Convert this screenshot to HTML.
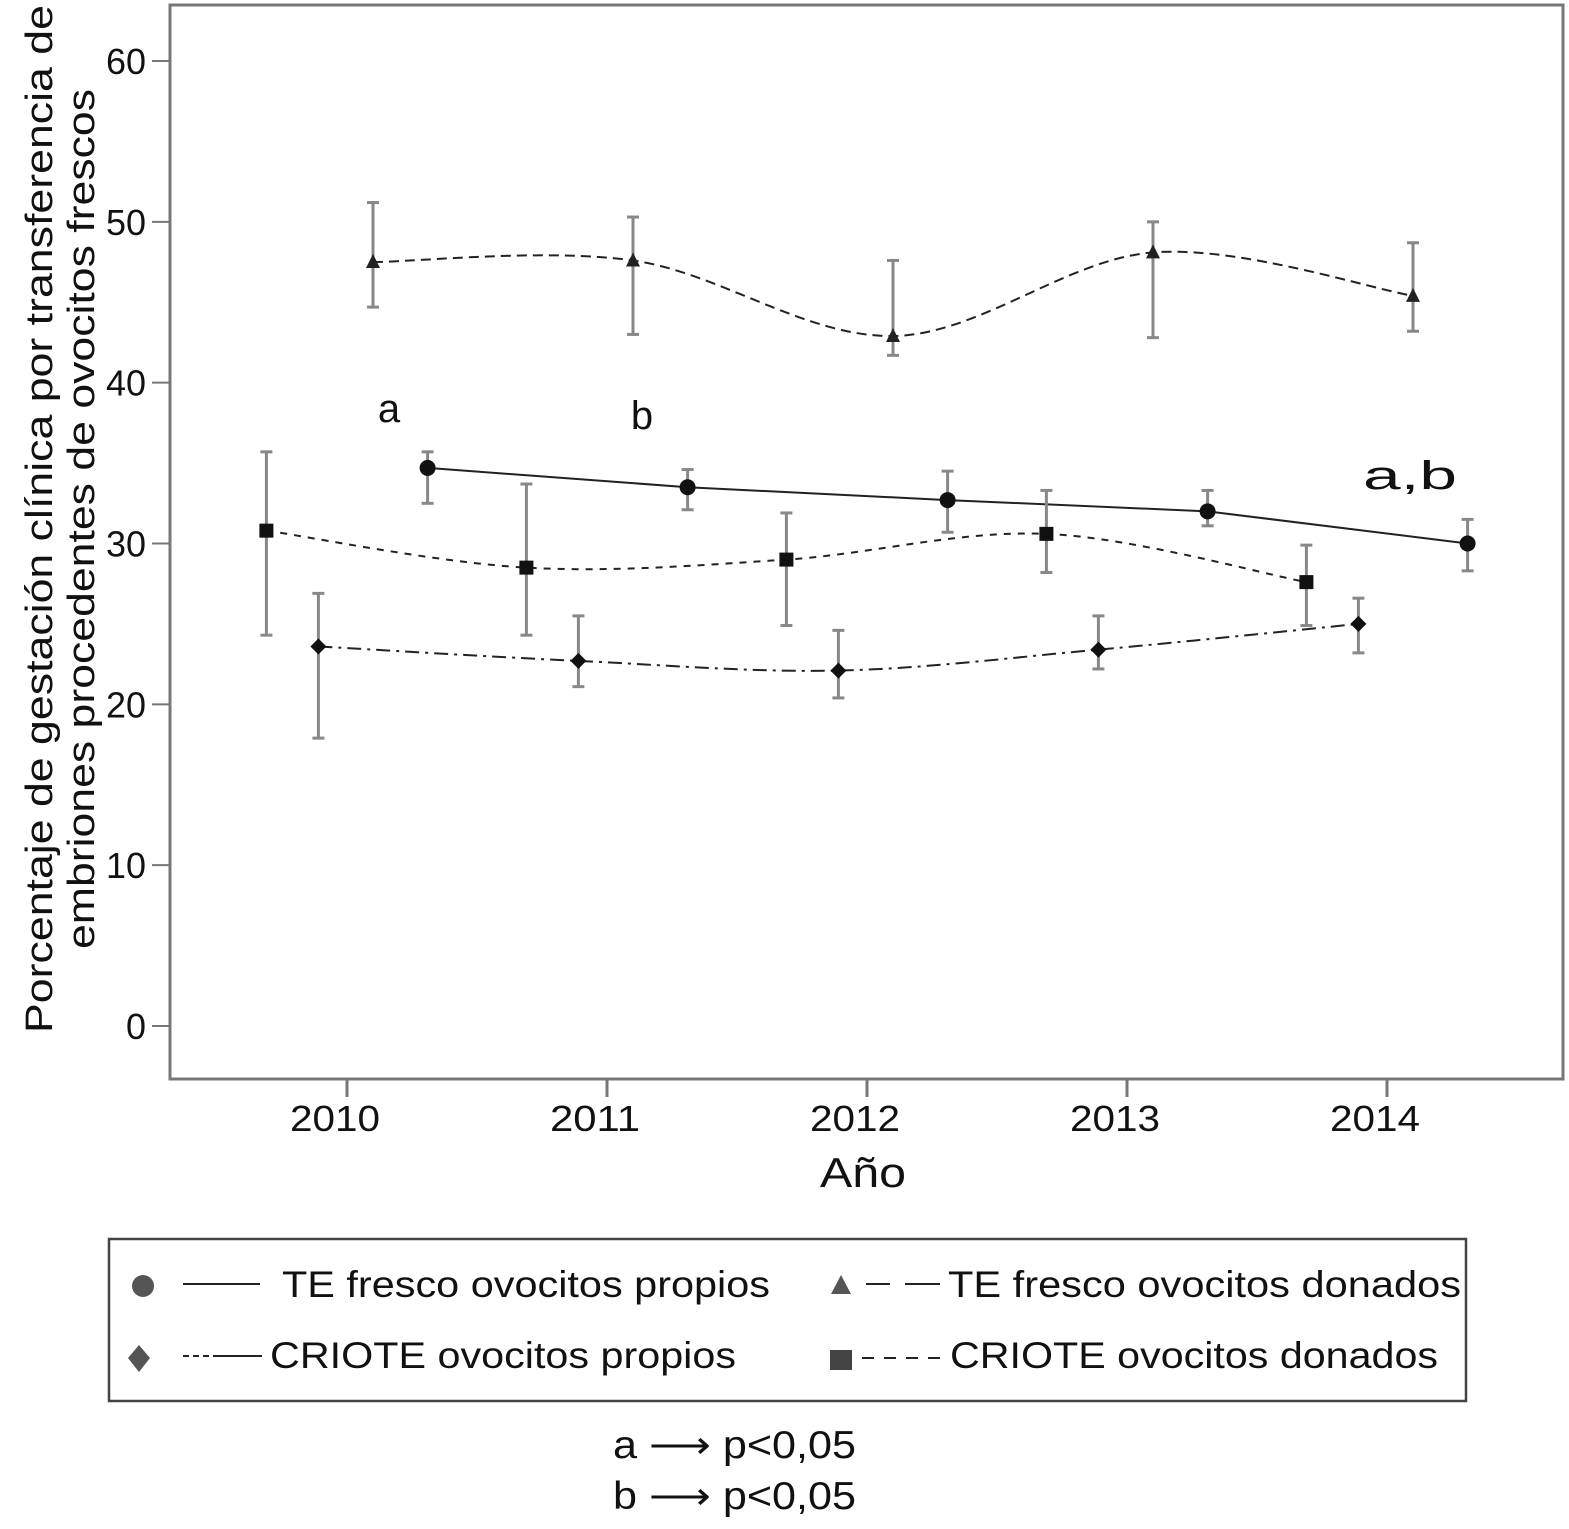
<!DOCTYPE html>
<html><head><meta charset="utf-8">
<style>
html,body{margin:0;padding:0;background:#fff;}
body{width:1569px;height:1524px;overflow:hidden;font-family:"Liberation Sans",sans-serif;}
svg text{font-family:"Liberation Sans",sans-serif;fill:#111;}
</style></head>
<body>
<svg id="chart" width="1569" height="1524" xmlns="http://www.w3.org/2000/svg">
  <rect x="170" y="5" width="1393" height="1074" fill="none" stroke="#777" stroke-width="3"/>
  <g id="axes"></g>
  <g id="series"></g>
  <text x="820" y="1187" font-size="42" textLength="86" lengthAdjust="spacingAndGlyphs">Año</text>
  <g transform="translate(52,519) rotate(-90)">
    <text x="-514" y="0" font-size="38" textLength="1028" lengthAdjust="spacingAndGlyphs">Porcentaje de gestación clínica por transferencia de</text>
    <text x="-430" y="42" font-size="38" textLength="860" lengthAdjust="spacingAndGlyphs">embriones procedentes de ovocitos frescos</text>
  </g>
  <text x="389" y="422" font-size="40" text-anchor="middle">a</text>
  <text x="642" y="429" font-size="40" text-anchor="middle">b</text>
  <text x="1363" y="489" font-size="40" textLength="94" lengthAdjust="spacingAndGlyphs">a,b</text>

  <g>
    <rect x="109" y="1239" width="1357" height="162" fill="none" stroke="#444" stroke-width="2.5"/>
    <g>
      <circle cx="143" cy="1286" r="11" fill="#555"/>
      <line x1="183" y1="1284" x2="260" y2="1284" stroke="#222" stroke-width="2"/>
      <text x="282" y="1297" font-size="37" textLength="488" lengthAdjust="spacingAndGlyphs">TE fresco ovocitos propios</text>
    </g>
    <g>
      <polygon points="841,1275 851,1294 831,1294" fill="#555"/>
      <line x1="866" y1="1284" x2="890" y2="1284" stroke="#222" stroke-width="2"/>
      <line x1="905" y1="1284" x2="940" y2="1284" stroke="#222" stroke-width="2"/>
      <text x="948" y="1297" font-size="37" textLength="513" lengthAdjust="spacingAndGlyphs">TE fresco ovocitos donados</text>
    </g>
    <g>
      <polygon points="139,1345 150,1358 139,1372 128,1358" fill="#555"/>
      <line x1="183" y1="1356" x2="215" y2="1356" stroke="#222" stroke-width="2" stroke-dasharray="6,4"/>
      <line x1="215" y1="1356" x2="262" y2="1356" stroke="#222" stroke-width="2"/>
      <text x="270" y="1368" font-size="37" textLength="466" lengthAdjust="spacingAndGlyphs">CRIOTE ovocitos propios</text>
    </g>
    <g>
      <rect x="830" y="1350" width="22" height="20" fill="#444"/>
      <line x1="862" y1="1358" x2="942" y2="1358" stroke="#222" stroke-width="2" stroke-dasharray="12,10"/>
      <text x="950" y="1368" font-size="37" textLength="488" lengthAdjust="spacingAndGlyphs">CRIOTE ovocitos donados</text>
    </g>
  </g>
  <text x="613" y="1458" font-size="39" textLength="243" lengthAdjust="spacingAndGlyphs">a ⟶ p&lt;0,05</text>
  <text x="613" y="1509" font-size="39" textLength="243" lengthAdjust="spacingAndGlyphs">b ⟶ p&lt;0,05</text>
</svg>
<script>
const years = [2010, 2011, 2012, 2013, 2014];
const yTicks = [0, 10, 20, 30, 40, 50, 60];
const tePropios = [34.7, 33.5, 32.7, 32.0, 30.0];
const tePropiosLo = [32.5, 32.1, 30.7, 31.1, 28.3];
const tePropiosHi = [35.7, 34.6, 34.5, 33.3, 31.5];
const teDonados = [47.5, 47.6, 42.9, 48.1, 45.4];
const teDonadosLo = [44.7, 43.0, 41.7, 42.8, 43.2];
const teDonadosHi = [51.2, 50.3, 47.6, 50.0, 48.7];
const crioPropios = [23.6, 22.7, 22.1, 23.4, 25.0];
const crioPropiosLo = [17.9, 21.1, 20.4, 22.2, 23.2];
const crioPropiosHi = [26.9, 25.5, 24.6, 25.5, 26.6];
const crioDonados = [30.8, 28.5, 29.0, 30.6, 27.6];
const crioDonadosLo = [24.3, 24.3, 24.9, 28.2, 24.9];
const crioDonadosHi = [35.7, 33.7, 31.9, 33.3, 29.9];

const NS = "http://www.w3.org/2000/svg";
function xScale(v){ return 347 + (v - 2010) * 260; }
function yScale(v){ return 1026 - v * 16.083; }
function mk(tag, attrs, parent){
  const e = document.createElementNS(NS, tag);
  for (const k in attrs) e.setAttribute(k, attrs[k]);
  parent.appendChild(e); return e;
}
const axes = document.getElementById('axes');
yTicks.forEach(t => {
  const g = mk('g', {}, axes);
  
  
  mk('line', {x1:152, x2:170, y1:yScale(t), y2:yScale(t), stroke:'#777', 'stroke-width':2}, g);
  const w = String(t).length * 20;
  const tx = mk('text', {x:146 - w, y:yScale(t)+13, 'font-size':36, textLength:w, lengthAdjust:'spacingAndGlyphs'}, g);
  tx.textContent = t;
});
years.forEach(y => {
  const g = mk('g', {}, axes);
  
  
  mk('line', {x1:xScale(y), x2:xScale(y), y1:1079, y2:1097, stroke:'#777', 'stroke-width':3}, g);
  const tx = mk('text', {x:xScale(y) - 57, y:1131, 'font-size':36, textLength:90, lengthAdjust:'spacingAndGlyphs'}, g);
  tx.textContent = y;
});

function smoothPath(pts){
  let d = 'M' + pts[0][0] + ',' + pts[0][1];
  for (let i = 0; i < pts.length - 1; i++){
    const p0 = pts[i-1] || pts[i], p1 = pts[i], p2 = pts[i+1], p3 = pts[i+2] || p2;
    const c1 = [p1[0] + (p2[0]-p0[0])/6, p1[1] + (p2[1]-p0[1])/6];
    const c2 = [p2[0] - (p3[0]-p1[0])/6, p2[1] - (p3[1]-p1[1])/6];
    d += ' C' + c1 + ' ' + c2 + ' ' + p2;
  }
  return d;
}
const seriesG = document.getElementById('series');
function drawSeries(name, offset, vals, lo, hi, dash, smooth, marker){
  const g = mk('g', {}, seriesG);
  
  
  const pts = years.map((y,i) => [xScale(y + offset), yScale(vals[i])]);
  years.forEach((y,i) => {
    const x = xScale(y + offset);
    const eb = mk('g', {stroke:'#888', 'stroke-width':3}, g);
    
    
    mk('line', {x1:x, x2:x, y1:yScale(lo[i]), y2:yScale(hi[i])}, eb);
    mk('line', {x1:x-6, x2:x+6, y1:yScale(lo[i]), y2:yScale(lo[i])}, eb);
    mk('line', {x1:x-6, x2:x+6, y1:yScale(hi[i]), y2:yScale(hi[i])}, eb);
  });
  const d = smooth ? smoothPath(pts) : 'M' + pts.map(p => p.join(',')).join(' L');
  const ln = mk('path', {d:d, fill:'none', stroke:'#222', 'stroke-width':2, 'stroke-dasharray':dash}, g);
  
  
  pts.forEach(p => {
    let m;
    if (marker === 'circle') m = mk('circle', {cx:p[0], cy:p[1], r:8, fill:'#111'}, g);
    else if (marker === 'triangle') m = mk('polygon', {points:`${p[0]},${p[1]-8} ${p[0]+7},${p[1]+6} ${p[0]-7},${p[1]+6}`, fill:'#222'}, g);
    else if (marker === 'diamond') m = mk('polygon', {points:`${p[0]},${p[1]-8} ${p[0]+8},${p[1]} ${p[0]},${p[1]+8} ${p[0]-8},${p[1]}`, fill:'#111'}, g);
    else m = mk('rect', {x:p[0]-7, y:p[1]-7, width:14, height:14, fill:'#111'}, g);
    
    
  });
}
drawSeries('te-fresco-propios', 0.31, tePropios, tePropiosLo, tePropiosHi, 'none', false, 'circle');
drawSeries('te-fresco-donados', 0.10, teDonados, teDonadosLo, teDonadosHi, '10,6', true, 'triangle');
drawSeries('criote-propios', -0.11, crioPropios, crioPropiosLo, crioPropiosHi, '14,6,3,6', true, 'diamond');
drawSeries('criote-donados', -0.31, crioDonados, crioDonadosLo, crioDonadosHi, '7,7', true, 'square');
</script>
</body></html>
